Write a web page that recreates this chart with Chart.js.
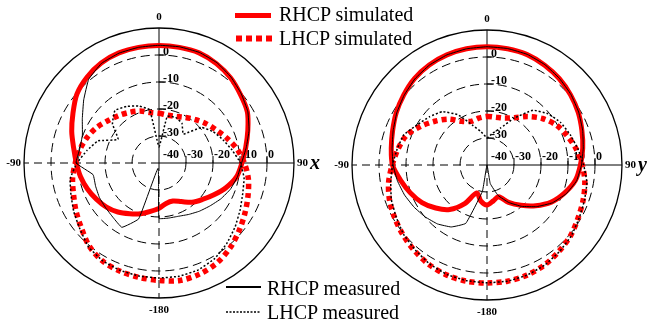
<!DOCTYPE html>
<html>
<head>
<meta charset="utf-8">
<script src="https://cdn.jsdelivr.net/npm/chart.js@4.4.1/dist/chart.umd.min.js"></script>
<style>
  html, body { margin: 0; padding: 0; background: #fff; }
  #wrap { position: relative; width: 650px; height: 326px; overflow: hidden; background: #fff; }
  canvas { position: absolute; top: 0; }
  #cx { left: 0; }
  #cy { left: 325px; }
  #legend { position: absolute; left: 0; top: 0; pointer-events: none; }
  #legend text { font-family: "Liberation Serif", "Times New Roman", serif; font-size: 20px; fill: #000; }
</style>
</head>
<body>
<div id="wrap">
  <canvas id="cx" width="325" height="326"></canvas>
  <canvas id="cy" width="325" height="326"></canvas>
  <svg id="legend" width="650" height="326">
    <line x1="235" y1="15.5" x2="271" y2="15.5" stroke="#ff0000" stroke-width="5"/>
    <text x="279" y="21">RHCP simulated</text>
    <line x1="236" y1="38.5" x2="272" y2="38.5" stroke="#ff0000" stroke-width="6" stroke-dasharray="6 4"/>
    <text x="279" y="45">LHCP simulated</text>
    <line x1="226" y1="287" x2="261" y2="287" stroke="#000" stroke-width="2"/>
    <text x="267" y="295">RHCP measured</text>
    <line x1="226" y1="312" x2="261" y2="312" stroke="#000" stroke-width="1.5" stroke-dasharray="2 1.5"/>
    <text x="267" y="319">LHCP measured</text>
  </svg>
</div>
<script>
// Angles (degrees, clockwise from top)
const ANGLES = [0,10,20,30,40,50,60,70,80,90,100,110,120,130,140,150,160,170,
                180,190,200,210,220,230,240,250,260,270,280,290,300,310,320,330,340,350];

// Radial tick values (dB)
const RING_VALUES = [-40, -30, -20, -10, 0, 10];
const VERT_TICK_LABELS = ['0', '-10', '-20', '-30'];
const VERT_TICK_VALUES = [0, -10, -20, -30];
const HORZ_TICK_LABELS = ['-30', '-20', '-10', '0'];
const HORZ_TICK_VALUES = [-30, -20, -10, 0];
const CENTER_LABEL = '-40';
const ANGLE_LABELS = ['0', '90', '-180', '-90'];

// x-plane (left)
const RHCP_SIM_X = [3.5,3.5,3.4,2.5,1.2,-0.6,-2.2,-5.0,-7.4,-9.3,-10.8,-13.5,-16.5,-19.0,-21.0,-23.5,-25.0,-24.8,
                    -23.2,-21.8,-20.0,-18.3,-16.3,-14.6,-13.2,-11.8,-10.5,-9.4,-7.9,-5.6,-3.2,-0.3,1.5,2.8,3.4,3.5];
const LHCP_SIM_X = [-21.6,-22.0,-21.6,-20.5,-19.0,-17.3,-15.5,-13.2,-10.6,-8.4,-6.4,-4.9,-3.2,-1.2,1.0,2.8,3.8,4.2,
                    3.5,3.0,2.6,1.9,0.2,-2.5,-4.5,-6.3,-7.5,-9.0,-10.3,-11.8,-13.5,-15.5,-17.0,-18.3,-19.5,-21.0];
const RHCP_MEAS_X = [3.6,3.7,3.6,2.9,1.5,-0.2,-2.0,-4.5,-7.2,-9.4,-10.5,-11.8,-13.5,-15.3,-16.7,-18.0,-19.0,-19.3,
                     -19.5,-38.0,-18.0,-12.5,-13.6,-14.2,-14.5,-15.0,-15.2,-9.3,-10.2,-9.8,-7.2,-3.6,0.5,2.6,3.3,3.5];
const LHCP_MEAS_X = [-34.0,-22.5,-22.0,-23.0,-26.0,-19.5,-16.8,-14.8,-12.5,-9.8,-8.0,-7.0,-5.3,-3.2,-1.0,1.0,2.2,2.6,
                     2.6,2.5,2.3,1.8,0.6,-1.8,-3.6,-5.3,-6.6,-9.6,-13.0,-16.0,-22.5,-17.5,-14.6,-15.8,-17.5,-20.0];

// y-plane (right)
const RHCP_SIM_Y = [3.8,3.7,3.5,2.7,1.7,0.4,-1.0,-2.6,-4.0,-5.4,-6.8,-9.5,-12.5,-16.5,-20.5,-24.0,-27.5,-26.5,
                    -25.2,-26.5,-29.0,-23.5,-18.5,-15.2,-12.2,-9.8,-7.5,-5.0,-4.0,-2.8,-1.2,0.3,1.8,2.8,3.4,3.7];
const LHCP_SIM_Y = [-22.0,-22.0,-21.5,-19.8,-16.6,-13.2,-10.4,-8.4,-6.4,-4.7,-3.2,-2.1,-1.0,0.5,1.6,2.7,3.4,3.7,
                    3.7,3.7,3.4,2.7,1.6,0.5,-0.6,-1.6,-3.0,-4.9,-6.5,-8.2,-11.5,-14.8,-17.8,-21.3,-22.8,-22.4];
const RHCP_MEAS_Y = [3.8,3.8,3.6,2.9,1.8,0.6,-0.8,-2.3,-3.8,-5.0,-6.3,-8.8,-12.0,-16.0,-20.0,-24.0,-28.0,-33.0,
                     -40.0,-30.0,-17.0,-13.5,-11.5,-10.1,-8.8,-7.5,-6.3,-5.2,-4.3,-3.0,-1.4,0.1,1.6,2.7,3.4,3.7];
const LHCP_MEAS_Y = [-30.0,-28.0,-25.5,-20.0,-13.5,-10.5,-8.5,-7.2,-5.8,-4.2,-2.4,-1.6,-0.6,0.8,1.8,2.8,3.4,3.7,
                     3.6,3.5,3.2,2.4,1.2,0.2,-1.2,-2.3,-3.8,-5.0,-6.2,-7.2,-10.2,-12.2,-14.2,-18.5,-24.3,-27.5];

const SERIF = '"Liberation Serif", "Times New Roman", serif';
const AXIS_IDX = [0, 9, 18, 27];

const decoPlugin = {
  id: 'deco',
  beforeDatasetsDraw(chart) {
    const s = chart.scales.r, ctx = chart.ctx;
    const xc = s.xCenter, yc = s.yCenter;
    ctx.save();
    ctx.strokeStyle = '#000';
    ctx.lineWidth = 1;
    ctx.setLineDash([]);
    // tick marks
    RING_VALUES.slice(1, 5).forEach(v => {
      const d = s.getDistanceFromCenterForValue(v);
      ctx.beginPath(); ctx.moveTo(xc, yc - d); ctx.lineTo(xc + 7, yc - d); ctx.stroke();
      ctx.beginPath(); ctx.moveTo(xc + d, yc); ctx.lineTo(xc + d, yc - 7); ctx.stroke();
    });
    ctx.fillStyle = '#000';
    ctx.font = 'bold 12px ' + SERIF;
    ctx.textAlign = 'left';
    ctx.textBaseline = 'alphabetic';
    VERT_TICK_VALUES.forEach((v, i) => {
      const d = s.getDistanceFromCenterForValue(v);
      ctx.fillText(VERT_TICK_LABELS[i], xc + 4, yc - d);
    });
    HORZ_TICK_VALUES.forEach((v, i) => {
      const d = s.getDistanceFromCenterForValue(v);
      ctx.fillText(HORZ_TICK_LABELS[i], xc + d + 1, yc - 5);
    });
    ctx.fillText(CENTER_LABEL, xc + 4, yc - 5);
    ctx.restore();
  },
  afterDraw(chart) {
    const s = chart.scales.r, ctx = chart.ctx;
    const xc = s.xCenter, yc = s.yCenter, R = s.drawingArea;
    ctx.save();
    ctx.fillStyle = '#000';
    ctx.font = 'bold 11px ' + SERIF;
    ctx.textBaseline = 'middle';
    ctx.textAlign = 'center';
    ctx.fillText(ANGLE_LABELS[0], xc, yc - R - 11);
    ctx.fillText(ANGLE_LABELS[2], xc, yc + R + 12);
    ctx.textAlign = 'left';
    ctx.fillText(ANGLE_LABELS[1], xc + R + 3, yc);
    ctx.textAlign = 'right';
    ctx.fillText(ANGLE_LABELS[3], xc - R - 3, yc);
    ctx.font = 'italic bold 20px ' + SERIF;
    ctx.textAlign = 'left';
    ctx.textBaseline = 'alphabetic';
    ctx.fillText(chart.options.plugins.deco.letter, xc + R + 16, yc + 6);
    ctx.restore();
  }
};

function makeChart(id, rs, ls, rm, lm, letter, pad) {
  return new Chart(document.getElementById(id), {
    type: 'radar',
    data: {
      labels: ANGLES.map(String),
      datasets: [
        { label: 'RHCP measured', data: rm, borderColor: '#000', borderWidth: 1, tension: 0.1, order: 1 },
        { label: 'LHCP measured', data: lm, borderColor: '#000', borderWidth: 1.5, borderDash: [2, 2], tension: 0.1, order: 2 },
        { label: 'RHCP simulated', data: rs, borderColor: '#ff0000', borderWidth: 5, tension: 0.3, order: 3 },
        { label: 'LHCP simulated', data: ls, borderColor: '#ff0000', borderWidth: 5.5, borderDash: [5, 4], tension: 0.3, order: 4 }
      ].map(d => Object.assign({ fill: false, pointRadius: 0, pointHoverRadius: 0, borderCapStyle: 'butt', borderJoinStyle: 'round' }, d))
    },
    options: {
      responsive: false,
      animation: false,
      events: [],
      devicePixelRatio: 1,
      layout: { padding: pad },
      plugins: { legend: { display: false }, tooltip: { enabled: false }, deco: { letter } },
      scales: {
        r: {
          min: -40, max: 10,
          startAngle: 0,
          ticks: { display: false, stepSize: 10, showLabelBackdrop: false },
          grid: {
            circular: true, color: '#000',
            lineWidth: c => (c.tick && c.tick.value === 10) ? 1.3 : 1
          },
          border: { dash: c => (c.tick && c.tick.value === 10) ? [] : [9, 5] },
          angleLines: {
            display: true, color: '#000',
            lineWidth: c => AXIS_IDX.includes(c.index) ? 1 : 0,
            borderDash: c => (c.index === 18 || c.index === 27) ? [8, 5] : []
          },
          pointLabels: { display: false }
        }
      }
    },
    plugins: [decoPlugin]
  });
}

makeChart('cx', RHCP_SIM_X, LHCP_SIM_X, RHCP_MEAS_X, LHCP_MEAS_X, 'x',
  { left: 24, right: 31, top: 28, bottom: 28 });
makeChart('cy', RHCP_SIM_Y, LHCP_SIM_Y, RHCP_MEAS_Y, LHCP_MEAS_Y, 'y',
  { left: 27, right: 28, top: 30, bottom: 26 });
</script>
</body>
</html>
